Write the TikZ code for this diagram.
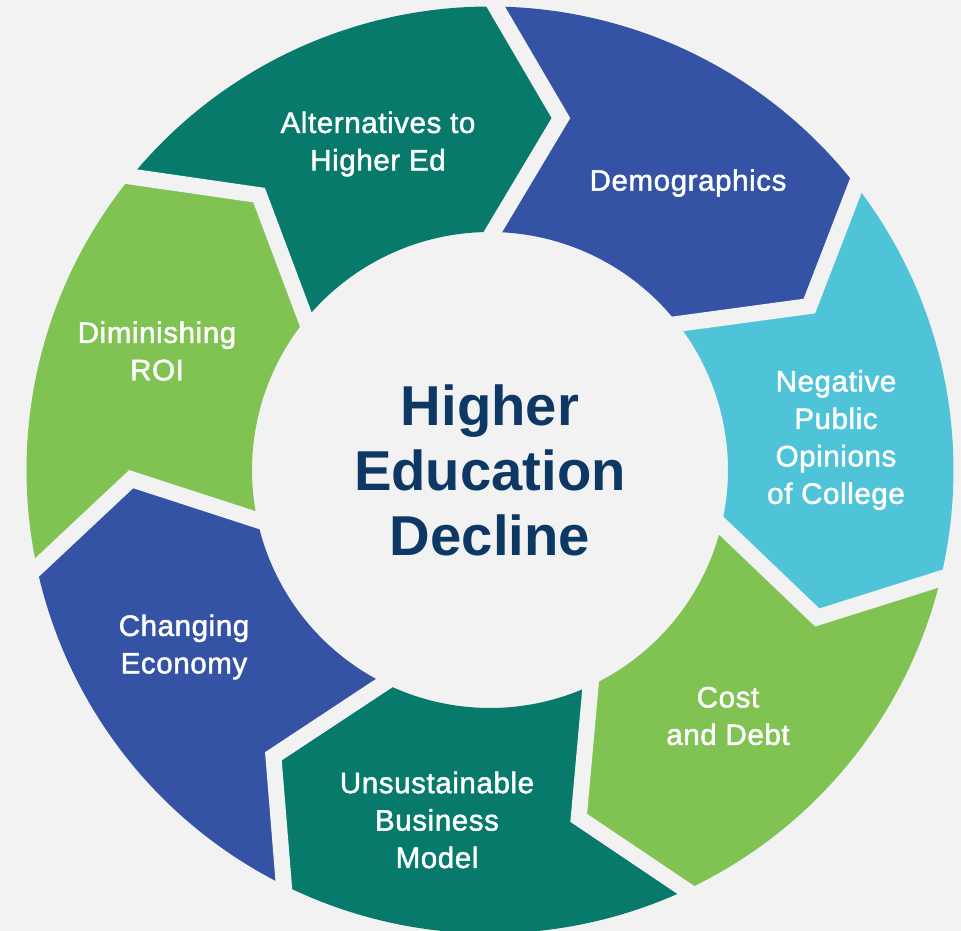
\documentclass[tikz,border=0pt]{standalone}
\usepackage{fontspec}
\setmainfont{Liberation Sans}
\newfontfamily\lblfont{Liberation Sans}[FakeBold=1.6, LetterSpace=2]
\usetikzlibrary{positioning}

\definecolor{bgcol}{HTML}{F2F2F2}
\definecolor{tealseg}{HTML}{077A6C}
\definecolor{blueseg}{HTML}{3553A4}
\definecolor{cyanseg}{HTML}{4FC4D8}
\definecolor{greenseg}{HTML}{80C353}
\definecolor{navytxt}{HTML}{0D3864}

\begin{document}
\begin{tikzpicture}[
  gapline/.style={draw=bgcol, line width=0.32cm, line cap=rect, line join=miter},
  lbl/.style={text=white, align=center, font=\lblfont\fontsize{16.8}{21.3}\selectfont},
  hub/.style={text=navytxt, align=center, font=\bfseries\fontsize{32}{37}\selectfont}
]
\useasboundingbox (-9.8,-9.22) rectangle (9.42,9.4);
\fill[bgcol] (-9.8,-9.22) rectangle (9.42,9.4);

% ring segments, clockwise from the top
\fill[blueseg]  (89.3:4.76) -- (78.6:7.18) -- (89.3:9.27) arc[start angle=89.3, end angle=37.87, radius=9.27cm] -- (27.17:7.18) -- (37.87:4.76) arc[start angle=37.87, end angle=89.3, radius=4.76cm] -- cycle;
\fill[cyanseg]  (37.87:4.76) -- (27.17:7.18) -- (37.87:9.27) arc[start angle=37.87, end angle=-13.56, radius=9.27cm] -- (-24.26:7.18) -- (-13.56:4.76) arc[start angle=-13.56, end angle=37.87, radius=4.76cm] -- cycle;
\fill[greenseg] (-13.56:4.76) -- (-24.26:7.18) -- (-13.56:9.27) arc[start angle=-13.56, end angle=-64.99, radius=9.27cm] -- (-75.69:7.18) -- (-64.99:4.76) arc[start angle=-64.99, end angle=-13.56, radius=4.76cm] -- cycle;
\fill[tealseg]  (-64.99:4.76) -- (-75.69:7.18) -- (-64.99:9.27) arc[start angle=-64.99, end angle=-116.41, radius=9.27cm] -- (-127.11:7.18) -- (-116.41:4.76) arc[start angle=-116.41, end angle=-64.99, radius=4.76cm] -- cycle;
\fill[blueseg]  (-116.41:4.76) -- (-127.11:7.18) -- (-116.41:9.27) arc[start angle=-116.41, end angle=-167.84, radius=9.27cm] -- (-178.54:7.18) -- (-167.84:4.76) arc[start angle=-167.84, end angle=-116.41, radius=4.76cm] -- cycle;
\fill[greenseg] (-167.84:4.76) -- (-178.54:7.18) -- (-167.84:9.27) arc[start angle=-167.84, end angle=-219.27, radius=9.27cm] -- (-229.97:7.18) -- (-219.27:4.76) arc[start angle=-219.27, end angle=-167.84, radius=4.76cm] -- cycle;
\fill[tealseg]  (-219.27:4.76) -- (-229.97:7.18) -- (-219.27:9.27) arc[start angle=-219.27, end angle=-270.7, radius=9.27cm] -- (-281.4:7.18) -- (-270.7:4.76) arc[start angle=-270.7, end angle=-219.27, radius=4.76cm] -- cycle;

% white-ish gaps between the arrows
\draw[gapline] (89.3:9.27) -- (78.6:7.18) -- (89.3:4.76);
\draw[gapline] (37.87:9.27) -- (27.17:7.18) -- (37.87:4.76);
\draw[gapline] (-13.56:9.27) -- (-24.26:7.18) -- (-13.56:4.76);
\draw[gapline] (-64.99:9.27) -- (-75.69:7.18) -- (-64.99:4.76);
\draw[gapline] (-116.41:9.27) -- (-127.11:7.18) -- (-116.41:4.76);
\draw[gapline] (-167.84:9.27) -- (-178.54:7.18) -- (-167.84:4.76);
\draw[gapline] (-219.27:9.27) -- (-229.97:7.18) -- (-219.27:4.76);

\node[hub] (hed) at (0,0) {Higher\\Education\\Decline};

\node[lbl] (demo) at (3.96,5.74) {Demographics};
\node[lbl] (neg) at (6.92,0.6) {Negative\\Public\\Opinions\\of College};
\node[lbl] (cost) at (4.76,-4.92) {Cost\\and Debt};
\node[lbl] (biz) at (-1.06,-7.0) {Unsustainable\\Business\\Model};
\node[lbl] (econ) at (-6.12,-3.54) {Changing\\Economy};
\node[lbl] (roi) at (-6.66,2.38) {Diminishing\\ROI};
\node[lbl] (alt) at (-2.24,6.52) {Alternatives to\\Higher Ed};
\end{tikzpicture}
\end{document}
